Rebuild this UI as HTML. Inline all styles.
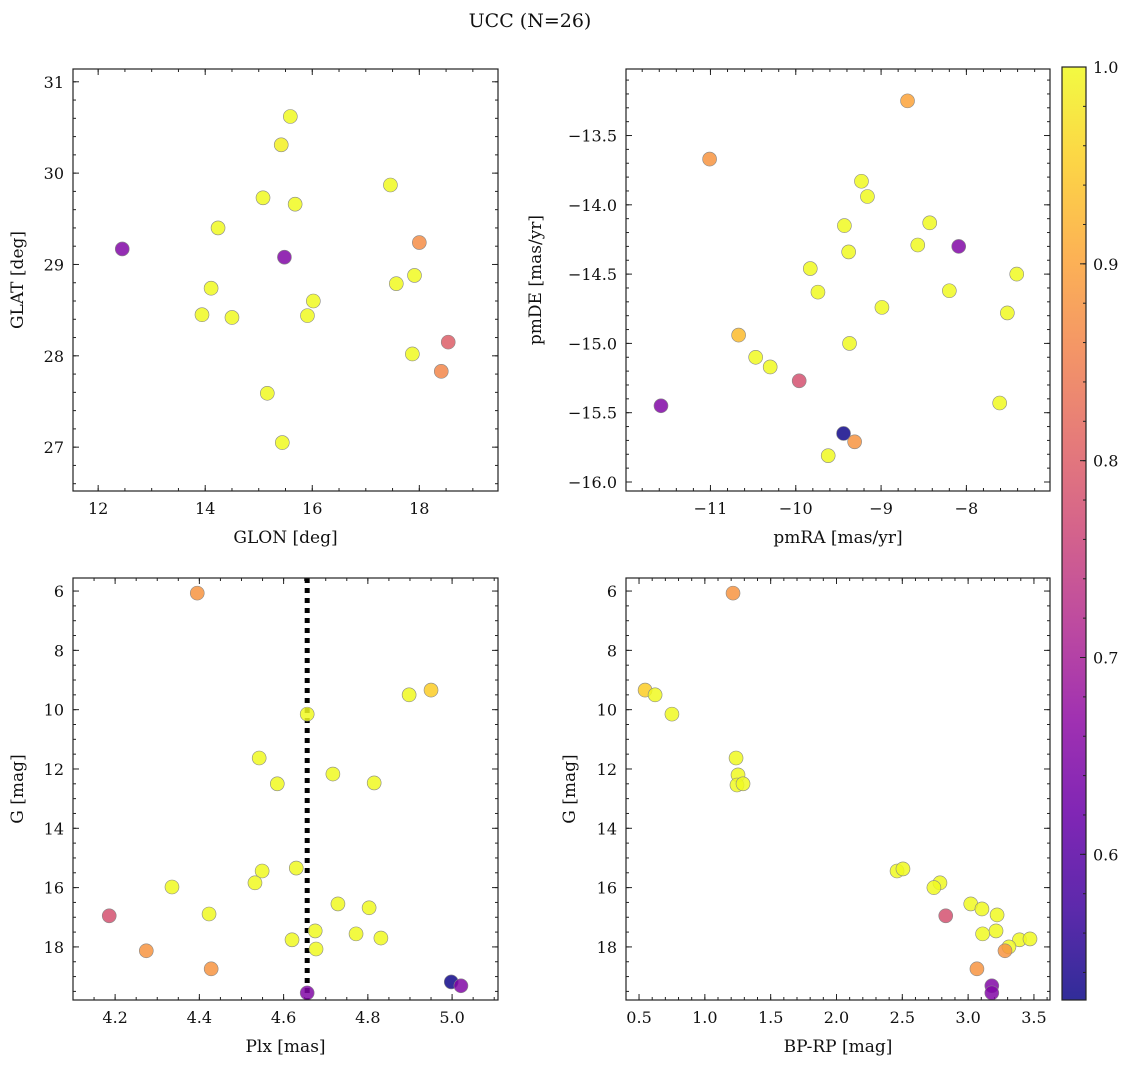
<!DOCTYPE html>
<html><head><meta charset="utf-8">
<style>
body{margin:0;background:#fff;}
svg text{font-family:"DejaVu Serif","Liberation Serif",serif;fill:#111;}
</style></head>
<body>
<svg id="fig" width="1136" height="1068" xmlns="http://www.w3.org/2000/svg">
<text x="530" y="27" font-size="19" text-anchor="middle">UCC (N=26)</text>
</svg>
<script>
// ---- data ----
const tlGlon=[15.59,15.42,17.46,15.08,15.68,14.24,12.45,15.48,18.0,16.02,14.11,13.94,14.50,15.91,17.57,17.91,17.87,18.54,18.41,15.16,15.44];
const tlGlat=[30.62,30.31,29.87,29.73,29.66,29.40,29.17,29.08,29.24,28.60,28.74,28.45,28.42,28.44,28.79,28.88,28.02,28.15,27.83,27.59,27.05];
const tlProb=[1.0,0.99,1.0,1.0,1.0,1.0,0.65,0.65,0.87,1.0,1.0,1.0,1.0,1.0,1.0,1.0,1.0,0.8,0.86,1.0,1.0];

const trPmra=[-8.69,-11.01,-9.23,-9.16,-9.43,-8.43,-8.57,-8.09,-9.38,-9.83,-7.41,-9.74,-8.20,-8.99,-7.52,-10.67,-9.37,-10.47,-10.30,-9.96,-11.58,-7.61,-9.44,-9.31,-9.62];
const trPmde=[-13.25,-13.67,-13.83,-13.94,-14.15,-14.13,-14.29,-14.30,-14.34,-14.46,-14.50,-14.63,-14.62,-14.74,-14.78,-14.94,-15.0,-15.10,-15.17,-15.27,-15.45,-15.43,-15.65,-15.71,-15.81];
const trProb=[0.9,0.88,1.0,1.0,1.0,1.0,1.0,0.65,1.0,1.0,1.0,1.0,1.0,1.0,1.0,0.93,1.0,1.0,1.0,0.78,0.65,1.0,0.53,0.88,1.0];

const blPlx=[4.395,4.95,4.898,4.656,4.542,4.717,4.585,4.815,4.63,4.549,4.532,4.335,4.729,4.803,4.423,4.186,4.772,4.675,4.62,4.831,4.677,4.274,4.428,4.998,5.021,4.656];
const blG=[6.07,9.34,9.5,10.15,11.63,12.17,12.5,12.47,15.34,15.44,15.84,15.98,16.55,16.68,16.89,16.95,17.56,17.46,17.76,17.70,18.07,18.13,18.74,19.18,19.31,19.55];
const blProb=[0.88,0.95,1.0,1.0,1.0,1.0,1.0,1.0,1.0,1.0,1.0,1.0,1.0,1.0,1.0,0.78,1.0,1.0,1.0,1.0,1.0,0.88,0.88,0.53,0.65,0.65];
const plxMedian=4.656;

const brBprp=[1.214,0.546,0.622,0.75,1.237,1.252,1.244,1.29,2.46,2.505,2.786,2.74,3.02,3.105,2.83,3.22,3.212,3.11,3.39,3.47,3.31,3.28,3.067,3.18,3.18];
const brG=[6.07,9.34,9.5,10.15,11.63,12.2,12.54,12.5,15.44,15.37,15.84,16.0,16.55,16.72,16.95,16.92,17.46,17.56,17.76,17.73,18.0,18.13,18.74,19.31,19.55];
const brProb=[0.88,0.95,1.0,1.0,1.0,1.0,1.0,1.0,1.0,1.0,1.0,1.0,1.0,1.0,0.78,1.0,1.0,1.0,1.0,1.0,1.0,0.88,0.88,0.65,0.65];

const cbTicks=[0.6,0.7,0.8,0.9,1.0];
const VMIN=0.526, VMAX=1.0;

// ---- helpers ----
const NS="http://www.w3.org/2000/svg";
const svg=document.getElementById('fig');
function mk(tag,attrs,parent){const e=document.createElementNS(NS,tag);for(const k in attrs)e.setAttribute(k,attrs[k]);(parent||svg).appendChild(e);return e;}
const stops=["#0d0887","#41049d","#6a00a8","#8f0da4","#b12a90","#cc4778","#e16462","#f2844b","#fca636","#fcce25","#f0f921"];
function hex(h){return [1,3,5].map(i=>parseInt(h.substr(i,2),16));}
function plasma(t){t=Math.max(0,Math.min(1,t));const f=t*10,i=Math.min(9,Math.floor(f)),r=f-i;const a=hex(stops[i]),b=hex(stops[i+1]);return `rgb(${a.map((v,k)=>Math.round(v+(b[k]-v)*r)).join(',')})`;}
function col(p){return plasma((p-VMIN)/(VMAX-VMIN));}
function fmt(v,d){return v<0?'\u2212'+Math.abs(v).toFixed(d):v.toFixed(d);}

function panel(o){
  const g=mk('g',{});
  
  
  const sx=v=>o.x0+(v-o.xmin)/(o.xmax-o.xmin)*(o.x1-o.x0);
  const sy=o.yinv? v=>o.y0+(v-o.ymin)/(o.ymax-o.ymin)*(o.y1-o.y0) : v=>o.y1-(v-o.ymin)/(o.ymax-o.ymin)*(o.y1-o.y0);
  function ticks(min,max,step){const a=[];const s=Math.ceil(min/step-1e-9);for(let k=s;k*step<=max+1e-9;k++)a.push(+(k*step).toFixed(6));return a;}
  const tg=mk('g',{stroke:'#222','stroke-width':1},g);
  
  
  ticks(o.xmin,o.xmax,o.xminor).forEach(v=>{const x=sx(v);mk('line',{x1:x,x2:x,y1:o.y1,y2:o.y1-3},tg);mk('line',{x1:x,x2:x,y1:o.y0,y2:o.y0+3},tg);});
  ticks(o.ymin,o.ymax,o.yminor).forEach(v=>{const y=sy(v);mk('line',{x1:o.x0,x2:o.x0+3,y1:y,y2:y},tg);mk('line',{x1:o.x1,x2:o.x1-3,y1:y,y2:y},tg);});
  ticks(o.xmin,o.xmax,o.xmajor).forEach(v=>{const x=sx(v);mk('line',{x1:x,x2:x,y1:o.y1,y2:o.y1-6},tg);mk('line',{x1:x,x2:x,y1:o.y0,y2:o.y0+6},tg);
    const t=mk('text',{x:x,y:o.y1+23,'font-size':16,'text-anchor':'middle'},g);t.textContent=fmt(v,o.xd);
    });
  ticks(o.ymin,o.ymax,o.ymajor).forEach(v=>{const y=sy(v);mk('line',{x1:o.x0,x2:o.x0+6,y1:y,y2:y},tg);mk('line',{x1:o.x1,x2:o.x1-6,y1:y,y2:y},tg);
    const t=mk('text',{x:o.x0-9,y:y+6,'font-size':16,'text-anchor':'end'},g);t.textContent=fmt(v,o.yd);
    });
  if(o.vline!==undefined){const l=mk('line',{x1:sx(o.vline),x2:sx(o.vline),y1:o.y0,y2:o.y1,stroke:'#000','stroke-width':5,'stroke-dasharray':'5,5'},g);
    }
  o.xs.forEach((xv,i)=>{const c=mk('circle',{cx:sx(xv),cy:sy(o.ys[i]),r:7,fill:col(o.ps[i]),'fill-opacity':0.85,stroke:'#888','stroke-width':0.6},g);
    });
  const fr=mk('rect',{x:o.x0,y:o.y0,width:o.x1-o.x0,height:o.y1-o.y0,fill:'none',stroke:'#222','stroke-width':1.2},g);
  
  const xl=mk('text',{x:(o.x0+o.x1)/2,y:o.y1+52,'font-size':17,'text-anchor':'middle'},g);xl.textContent=o.xlabel;
  
  const yx=o.ylx, yy=(o.y0+o.y1)/2;
  const yl=mk('text',{x:yx,y:yy,'font-size':17,'text-anchor':'middle',transform:`rotate(-90 ${yx} ${yy})`},g);yl.textContent=o.ylabel;
  
}

panel({name:'glon-glat-panel',x0:73,x1:498,y0:69,y1:491,xmin:11.53,xmax:19.47,ymin:26.52,ymax:31.14,xmajor:2,xminor:0.5,ymajor:1,yminor:0.2,xd:0,yd:0,
  xs:tlGlon,ys:tlGlat,ps:tlProb,xlabel:'GLON [deg]',ylabel:'GLAT [deg]',ylx:23});
panel({name:'pm-panel',x0:626,x1:1050,y0:69,y1:491,xmin:-11.99,xmax:-7.02,ymin:-16.065,ymax:-13.02,xmajor:1,xminor:0.2,ymajor:0.5,yminor:0.1,xd:0,yd:1,
  xs:trPmra,ys:trPmde,ps:trProb,xlabel:'pmRA [mas/yr]',ylabel:'pmDE [mas/yr]',ylx:541});
panel({name:'plx-g-panel',x0:73,x1:498,y0:578,y1:1000,xmin:4.10,xmax:5.109,ymin:5.56,ymax:19.79,yinv:true,xmajor:0.2,xminor:0.05,ymajor:2,yminor:0.5,xd:1,yd:0,
  xs:blPlx,ys:blG,ps:blProb,xlabel:'Plx [mas]',ylabel:'G [mag]',ylx:23,vline:plxMedian});
panel({name:'cmd-panel',x0:626,x1:1050,y0:578,y1:1000,xmin:0.401,xmax:3.622,ymin:5.56,ymax:19.79,yinv:true,xmajor:0.5,xminor:0.1,ymajor:2,yminor:0.5,xd:1,yd:0,
  xs:brBprp,ys:brG,ps:brProb,xlabel:'BP-RP [mag]',ylabel:'G [mag]',ylx:575});

const cb=mk('g',{});


const defs=mk('defs',{},cb);
const lg=mk('linearGradient',{id:'cbg',x1:0,y1:1,x2:0,y2:0},defs);
stops.forEach((s,i)=>mk('stop',{offset:i/10,'stop-color':s},lg));
const CB={x0:1062,x1:1086,y0:67,y1:1000};
mk('rect',{x:CB.x0,y:CB.y0,width:CB.x1-CB.x0,height:CB.y1-CB.y0,fill:'url(#cbg)','fill-opacity':0.85,stroke:'#222','stroke-width':1.2},cb);
const cy=v=>CB.y1-(v-VMIN)/(VMAX-VMIN)*(CB.y1-CB.y0);
for(let k=27;k<=50;k++){const v=k*0.02;if(v<VMIN||v>VMAX+1e-9)continue;mk('line',{x1:CB.x1,x2:CB.x1-3,y1:cy(v),y2:cy(v),stroke:'#222'},cb);}
cbTicks.forEach(v=>{const y=cy(v);mk('line',{x1:CB.x1,x2:CB.x1-6,y1:y,y2:y,stroke:'#222'},cb);
  const t=mk('text',{x:CB.x1+7,y:y+6,'font-size':16},cb);t.textContent=v.toFixed(1);
  });
</script>
</body></html>
